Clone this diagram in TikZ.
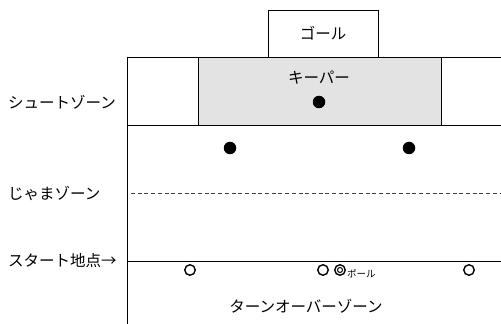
\documentclass[tikz,border=0pt]{standalone}
\usepackage{fontspec}
\setmainfont{Noto Sans CJK JP}
\usetikzlibrary{patterns}
\begin{document}
\begin{tikzpicture}[x=1pt,y=1pt,
  zone/.style={draw=black,line width=0.8pt,inner sep=0pt},
  lbl/.style={font=\fontsize{15.5}{17}\selectfont,inner sep=0pt},
  player/.style={circle,fill=black,minimum size=12.5pt,inner sep=0pt},
  cone/.style={circle,draw=black,line width=1.4pt,minimum size=10.5pt,inner sep=0pt},
  line/.style={line width=0.8pt}]
\useasboundingbox (0,0) rectangle (501,324);
% goal and keeper area
\node[zone,minimum width=110pt,minimum height=47pt] (goal) at (323,290.5) {};
\node[lbl] (goaltxt) at (323,291) {ゴール};
\node[zone,minimum width=243pt,minimum height=68pt,fill=black!11] (keeper) at (319.5,233) {};
\node[lbl] (keepertxt) at (319,246) {キーパー};
% field lines
\coordinate (tl) at (127,267);
\coordinate (tr) at (501,267);
\coordinate (sl) at (127,199);
\coordinate (sr) at (501,199);
\coordinate (dl) at (131,131);
\coordinate (dr) at (501,131);
\coordinate (stl) at (127,63);
\coordinate (str) at (501,63);
\coordinate (bl) at (127,0);
\draw[line] (tl) -- (tr);
\draw[line] (sl) -- (sr);
\draw[line width=0.7pt,black!75,dash pattern=on 4pt off 2.7pt] (dl) -- (dr);
\draw[line] (stl) -- (str);
\draw[line] (tl) -- (bl);
% players
\node[player] (p1) at (319,222) {};
\node[player] (p2) at (230,176) {};
\node[player] (p3) at (409,176) {};
% cones
\node[cone] (c1) at (190,54) {};
\node[cone] (c2) at (323,54) {};
\node[cone] (ball) at (340,54) {};
\node[circle,draw=black,line width=1pt,minimum size=5pt,inner sep=0pt] (ballin) at (340,54) {};
\node[cone] (c3) at (469,54) {};
\node[font=\fontsize{9.5}{10}\selectfont,anchor=west,inner sep=0pt] (balltxt) at (347,50) {ポール};
% labels
\node[lbl,anchor=west] (shoot) at (8,222) {シュートゾーン};
\node[lbl,anchor=west] (jama) at (8,131) {じゃまゾーン};
\node[lbl,anchor=west] (start) at (8,63) {スタート地点→};
\node[lbl] (turn) at (306,18) {ターンオーバーゾーン};
\end{tikzpicture}
\end{document}
